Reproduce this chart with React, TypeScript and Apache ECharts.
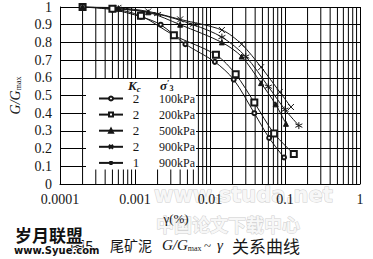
import React, { useEffect, useRef } from 'react';
import * as echarts from 'echarts';

// ---- data ----
const strain100 = [0.0002, 0.0005, 0.0012, 0.0022, 0.0047, 0.0116, 0.0207, 0.039, 0.0615, 0.097];
const ratio100 = [1.0, 0.985, 0.945, 0.9, 0.79, 0.69, 0.59, 0.4, 0.26, 0.15];

const strain200 = [0.0002, 0.0005, 0.0012, 0.0033, 0.012, 0.022, 0.039, 0.0716, 0.131];
const ratio200 = [1.0, 0.99, 0.95, 0.84, 0.73, 0.62, 0.46, 0.285, 0.17];

const strain500 = [0.0002, 0.0006, 0.0015, 0.004, 0.0144, 0.0264, 0.048, 0.075, 0.103];
const ratio500 = [1.0, 0.99, 0.97, 0.9, 0.8, 0.72, 0.57, 0.45, 0.34];

const strain900a = [0.0002, 0.0006, 0.0015, 0.004, 0.0144, 0.0264, 0.048, 0.085, 0.12];
const ratio900a = [1.0, 0.995, 0.975, 0.93, 0.87, 0.79, 0.66, 0.52, 0.435];

const strain900b = [0.0002, 0.0006, 0.002, 0.006, 0.0144, 0.03, 0.06, 0.1, 0.153];
const ratio900b = [1.0, 0.99, 0.96, 0.9, 0.83, 0.72, 0.55, 0.42, 0.33];

const kcValues = ['2', '2', '2', '2', '1'];
const sigmaLabels = ['100kPa', '200kPa', '500kPa', '900kPa', '900kPa'];

const xTickLabels = ['0.0001', '0.001', '0.01', '0.1', '1'];
const yTickLabels = ['0', '0.1', '0.2', '0.3', '0.4', '0.5', '0.6', '0.7', '0.8', '0.9', '1'];
const minorMultipliers = [2, 3, 4, 5, 6, 7, 8, 9];
const decades = [0.0001, 0.001, 0.01, 0.1];

const SERIF = '"Liberation Serif", "DejaVu Serif", serif';
const CJK = '"Noto Sans CJK SC", sans-serif';
const INK = '#161616';

const crossPath = 'path://M0 0L10 10M10 0L0 10';
const starPath = 'path://M5 0L5 10M0 2.5L10 7.5M10 2.5L0 7.5';

const symbols = ['emptyCircle', 'emptyRect', 'triangle', crossPath, starPath];
const symbolSizes = [4, 6, 5, 6, 7];

export default function App() {
  const ref = useRef<HTMLDivElement>(null);

  useEffect(() => {
    if (!ref.current) return;
    const chart = echarts.init(ref.current, undefined, { renderer: 'svg' });

    const strains = [strain100, strain200, strain500, strain900a, strain900b];
    const ratios = [ratio100, ratio200, ratio500, ratio900a, ratio900b];

    const minorX: number[] = [];
    decades.forEach((d) => minorMultipliers.forEach((m) => minorX.push(Number((d * m).toPrecision(3)))));

    // vertical minor (log) grid lines: one polyline with breaks between segments
    const gridData: any[] = [];
    minorX.forEach((x) => {
      gridData.push([x, 0]);
      gridData.push([x, 1]);
      gridData.push('-');
    });

    const lineSeries: any[] = strains.map((xs, i) => ({
      type: 'line',
      name: kcValues[i] + '|' + sigmaLabels[i] + '|' + i,
      data: xs.map((x, j) => [x, ratios[i][j]]),
      smooth: 0.3,
      symbol: symbols[i],
      symbolSize: symbolSizes[i],
      showAllSymbol: true,
      lineStyle: { color: INK, width: 1 },
      itemStyle: { color: INK, borderColor: INK, borderWidth: 1 },
    }));

    const minorGridSeries = {
      type: 'line',
      data: gridData,
      symbol: 'none',
      silent: true,
      lineStyle: { color: '#000', width: 1 },
    };

    const headerRich = {
      k: { fontFamily: SERIF, fontStyle: 'italic', fontSize: 13, color: INK },
      c: { fontFamily: SERIF, fontStyle: 'italic', fontSize: 9, color: INK, padding: [6, 0, 0, 0] },
      s: { fontFamily: SERIF, fontStyle: 'italic', fontSize: 13, color: INK },
      p: { fontFamily: SERIF, fontSize: 9, color: INK, padding: [0, 0, 6, 0] },
      t: { fontFamily: SERIF, fontSize: 8, color: INK, padding: [6, 0, 0, 0] },
    };

    chart.setOption({
      animation: false,
      backgroundColor: '#fff',
      grid: { left: 56, right: 13, top: 5, bottom: 75 },
      title: [
        { text: '{k|K}{c|c}', left: 128, top: 78, padding: 0, textStyle: { rich: headerRich } },
        { text: '{s|σ}{p|′}{t|3}', left: 160, top: 78, padding: 0, textStyle: { rich: headerRich } },
      ],
      xAxis: {
        type: 'log',
        logBase: 10,
        min: 0.0001,
        max: 1,
        name: 'γ(%)',
        nameLocation: 'middle',
        nameGap: 28,
        nameTextStyle: { fontFamily: SERIF, fontSize: 13, color: INK, padding: [0, 68, 0, 0] },
        axisLine: { show: true, lineStyle: { color: '#000', width: 1 } },
        axisTick: { show: false },
        splitLine: { show: true, lineStyle: { color: '#000', width: 1 } },
        axisLabel: {
          fontFamily: SERIF,
          fontSize: 14,
          color: INK,
          margin: 8,
          formatter: (v: number) => {
            const idx = Math.round(Math.log10(v)) + 4;
            return xTickLabels[idx] ?? '';
          },
        },
      },
      yAxis: {
        type: 'value',
        min: 0,
        max: 1,
        interval: 0.1,
        name: '{a|G/G}{b|max}',
        nameLocation: 'middle',
        nameGap: 38,
        nameRotate: 90,
        nameTextStyle: {
          color: INK,
          rich: {
            a: { fontFamily: SERIF, fontStyle: 'italic', fontSize: 14, color: INK },
            b: { fontFamily: SERIF, fontSize: 8, color: INK, padding: [6, 0, 0, 0] },
          },
        },
        axisLine: { show: true, lineStyle: { color: '#000', width: 1 } },
        axisTick: { show: false },
        splitLine: { show: true, lineStyle: { color: '#000', width: 1 } },
        axisLabel: {
          fontFamily: SERIF,
          fontSize: 14,
          color: INK,
          margin: 8,
          formatter: (v: number) => yTickLabels[Math.round(v * 10)] ?? '',
        },
      },
      legend: {
        orient: 'vertical',
        left: 86,
        top: 79,
        padding: [13, 1, 0, 12],
        backgroundColor: '#fff',
        itemWidth: 24,
        itemHeight: 5,
        itemGap: 3.1,
        selectedMode: false,
        data: lineSeries.map((s) => s.name),
        formatter: (name: string) => {
          const [k, p] = name.split('|');
          return '{k|' + k + '}{p|' + p + '}';
        },
        textStyle: {
          fontFamily: SERIF,
          fontSize: 12,
          lineHeight: 12,
          color: INK,
          rich: {
            k: { fontFamily: SERIF, fontSize: 13, lineHeight: 12, width: 16, align: 'center', color: INK },
            p: { fontFamily: SERIF, fontSize: 12, lineHeight: 12, padding: [0, 0, 0, 15], color: INK },
          },
        },
      },
      graphic: [
        // watermarks (faint)
        {
          type: 'text',
          x: 154,
          y: 195,
          style: {
            text: 'www.studa.net',
            font: 'bold 21px "DejaVu Sans", sans-serif',
            fill: '#f7f7f7',
            stroke: '#cfcfcf',
            lineWidth: 1,
            textVerticalAlign: 'middle',
          },
        },
        {
          type: 'text',
          x: 156,
          y: 224,
          style: {
            text: '中国论文下载中心',
            font: 'bold 18px ' + CJK,
            fill: '#f7f7f7',
            stroke: '#cfcfcf',
            lineWidth: 1,
            textVerticalAlign: 'middle',
          },
        },
        // caption
        {
          type: 'text',
          x: 70,
          y: 245,
          style: { text: '图5', font: '15px ' + CJK, fill: INK, textVerticalAlign: 'middle' },
        },
        {
          type: 'text',
          x: 110,
          y: 245,
          style: { text: '尾矿泥', font: '14px ' + CJK, fill: INK, textVerticalAlign: 'middle' },
        },
        {
          type: 'text',
          x: 162,
          y: 245,
          style: {
            text: '{g|G/G}{m|max}',
            textVerticalAlign: 'middle',
            rich: {
              g: { fontFamily: SERIF, fontStyle: 'italic', fontSize: 15, fill: INK },
              m: { fontFamily: SERIF, fontSize: 8, fill: INK, padding: [6, 0, 0, 0] },
            },
          },
        },
        {
          type: 'text',
          x: 204,
          y: 245,
          style: { text: '~', font: '13px ' + SERIF, fill: INK, textVerticalAlign: 'middle' },
        },
        {
          type: 'text',
          x: 217,
          y: 245,
          style: { text: 'γ', font: 'italic 15px ' + SERIF, fill: INK, textVerticalAlign: 'middle' },
        },
        {
          type: 'text',
          x: 232,
          y: 245,
          style: { text: '关系曲线', font: '17px ' + CJK, fill: INK, textVerticalAlign: 'middle' },
        },
        // site logo watermark
        {
          type: 'text',
          x: 15,
          y: 234,
          style: {
            text: '岁月联盟',
            font: 'bold 17px ' + CJK,
            fill: '#111',
            stroke: '#fff',
            lineWidth: 2,
            textVerticalAlign: 'middle',
          },
        },
        {
          type: 'text',
          x: 14,
          y: 250,
          style: {
            text: 'www.Syue.com',
            font: 'bold 10px "DejaVu Sans", sans-serif',
            fill: '#111',
            stroke: '#fff',
            lineWidth: 1.5,
            textVerticalAlign: 'middle',
          },
        },
      ],
      series: [minorGridSeries, ...lineSeries],
    });

    return () => chart.dispose();
  }, []);

  return (
    <div
      ref={ref}
      style={{ position: 'absolute', left: 0, top: 0, width: 373, height: 259 }}
    />
  );
}
